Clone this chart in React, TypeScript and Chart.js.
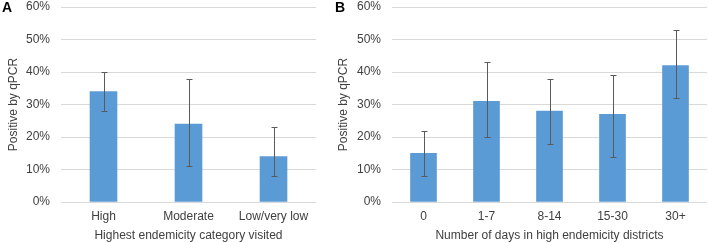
import React, { useEffect, useRef } from "react";
import { Chart, registerables } from "chart.js";

Chart.register(...registerables);

const categoriesA = ["High", "Moderate", "Low/very low"];
const valuesA = [34, 24, 14];
const lowerA = [28, 11, 8];
const upperA = [40, 38, 23];

const categoriesB = ["0", "1-7", "8-14", "15-30", "30+"];
const valuesB = [15, 31, 28, 27, 42];
const lowerB = [8, 20, 18, 14, 32];
const upperB = [22, 43, 38, 39, 53];

const yTicks = [0, 10, 20, 30, 40, 50, 60];

const FONT = "'Liberation Sans', Arial, sans-serif";
const TEXT = "#404040";

function makeErrorPlugin(lower: number[], upper: number[]) {
  return {
    id: "errbars",
    afterDatasetsDraw(chart: any) {
      const x = chart.scales.x;
      const y = chart.scales.y;
      const ctx = chart.ctx;
      ctx.save();
      ctx.strokeStyle = "#5a5a5a";
      ctx.lineWidth = 1;
      for (let i = 0; i < lower.length; i++) {
        const px = Math.round(x.getPixelForValue(i)) + 0.5;
        const y1 = Math.round(y.getPixelForValue(lower[i])) + 0.5;
        const y2 = Math.round(y.getPixelForValue(upper[i])) + 0.5;
        ctx.beginPath();
        ctx.moveTo(px, y1);
        ctx.lineTo(px, y2);
        ctx.moveTo(px - 3, y1);
        ctx.lineTo(px + 3, y1);
        ctx.moveTo(px - 3, y2);
        ctx.lineTo(px + 3, y2);
        ctx.stroke();
      }
      ctx.restore();
    },
  };
}

function makeLetterPlugin(letter: string, lx: number) {
  return {
    id: "letter",
    afterDraw(chart: any) {
      const ctx = chart.ctx;
      ctx.save();
      ctx.font = "bold 14px " + FONT;
      ctx.fillStyle = "#000";
      ctx.textAlign = "left";
      ctx.textBaseline = "middle";
      ctx.fillText(letter, lx, 8);
      ctx.restore();
    },
  };
}

function PanelChart(props: {
  width: number;
  categories: string[];
  values: number[];
  lower: number[];
  upper: number[];
  xTitle: string;
  letter: string;
  letterX: number;
  yWidth: number;
  padRight: number;
  barThickness: number;
}) {
  const ref = useRef<HTMLCanvasElement>(null);
  useEffect(() => {
    if (!ref.current) return;
    const chart = new Chart(ref.current, {
      type: "bar",
      data: {
        labels: props.categories,
        datasets: [
          {
            data: props.values,
            backgroundColor: "#5B9BD5",
            borderWidth: 0,
            barThickness: props.barThickness,
          },
        ],
      },
      options: {
        animation: false,
        responsive: false,
        devicePixelRatio: 1,
        layout: { padding: { top: 0, right: props.padRight, left: 0, bottom: 0 } },
        plugins: { legend: { display: false }, tooltip: { enabled: false } },
        scales: {
          x: {
            grid: { display: false, drawTicks: false },
            border: { display: false },
            ticks: { color: TEXT, font: { family: FONT, size: 12 }, padding: 7, maxRotation: 0 },
            title: {
              display: true,
              text: props.xTitle,
              color: TEXT,
              font: { family: FONT, size: 12 },
              padding: { top: 0, bottom: 0 },
            },
            afterFit: (s: any) => {
              s.height = 41;
            },
          },
          y: {
            min: 0,
            max: 60,
            afterBuildTicks: (s: any) => {
              s.ticks = yTicks.map((v) => ({ value: v }));
            },
            grid: { color: "#d9d9d9", drawTicks: false },
            border: { display: false },
            ticks: {
              color: TEXT,
              font: { family: FONT, size: 12 },
              padding: 11,
              callback: (v: any) => v + "%",
            },
            title: {
              display: true,
              text: "Positive by qPCR",
              color: TEXT,
              font: { family: FONT, size: 12 },
              padding: { top: 6, bottom: 0 },
            },
            afterFit: (s: any) => {
              s.width = props.yWidth;
              s.paddingTop = 7;
              s.paddingBottom = 0;
            },
          },
        },
      },
      plugins: [makeErrorPlugin(props.lower, props.upper), makeLetterPlugin(props.letter, props.letterX)],
    } as any);
    return () => chart.destroy();
  }, []);
  return <canvas ref={ref} width={props.width} height={243} style={{ display: "block" }} />;
}

export default function App() {
  return (
    <div style={{ position: "absolute", left: 0, top: 0, width: 708, height: 243, display: "flex", background: "#fff" }}>
      <PanelChart
        width={330}
        categories={categoriesA}
        values={valuesA}
        lower={lowerA}
        upper={upperA}
        xTitle="Highest endemicity category visited"
        letter="A"
        letterX={2}
        yWidth={61}
        padRight={14}
        barThickness={27}
      />
      <PanelChart
        width={378}
        categories={categoriesB}
        values={valuesB}
        lower={lowerB}
        upper={upperB}
        xTitle="Number of days in high endemicity districts"
        letter="B"
        letterX={5}
        yWidth={62}
        padRight={1}
        barThickness={26}
      />
    </div>
  );
}
